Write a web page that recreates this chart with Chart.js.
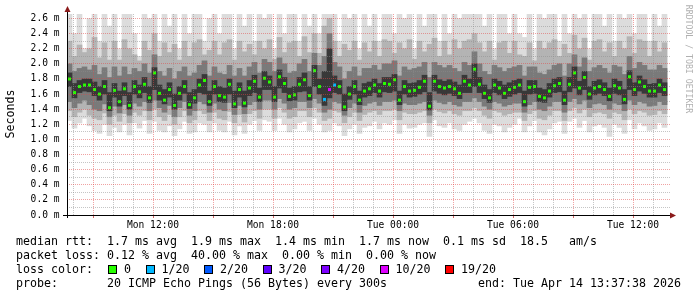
<!DOCTYPE html>
<html>
<head>
<meta charset="utf-8">
<script src="https://cdn.jsdelivr.net/npm/chart.js@4.4.1/dist/chart.umd.min.js"></script>
<style>
  html, body { margin: 0; padding: 0; background: #fff; }
  #wrap { position: relative; width: 697px; height: 297px; overflow: hidden; }
  #chart { position: absolute; left: 0; top: 0; }
  .t { position: absolute; font-family: 'DejaVu Sans Mono', monospace; font-size: 11.63px; line-height: 14px; white-space: pre; color: #000; }
  #lossLine { display: flex; align-items: center; height: 14px; }
  #lossLine .box { width: 9px; height: 9px; box-sizing: border-box; border: 1px solid #000; margin-right: 7px; }
  #lossLine .lab { margin-right: 14.5px; }
</style>
</head>
<body>
<div id="wrap">
  <canvas id="chart" width="697" height="297"></canvas>
  <div class="t" style="left:16px;top:234px">median rtt:  1.7 ms avg  1.9 ms max  1.4 ms min  1.7 ms now  0.1 ms sd  18.5   am/s</div>
  <div class="t" style="left:16px;top:248px">packet loss: 0.12 % avg  40.00 % max  0.00 % min  0.00 % now</div>
  <div class="t" id="lossLine" style="left:16px;top:262px"><span style="margin-right:15px">loss color:</span></div>
  <div class="t" style="left:16px;top:276px">probe:       20 ICMP Echo Pings (56 Bytes) every 300s</div>
  <div class="t" style="right:16px;top:276px">end: Tue Apr 14 13:37:38 2026</div>
</div>
<script>
// one sample every 15 minutes, first one starts Mon 07:42
const sampleMinutes = 15;

// median rtt (ms)
const median = [
  1.80, 1.62, 1.70, 1.72, 1.72, 1.66, 1.60, 1.70, 1.42, 1.65,
  1.50, 1.67, 1.45, 1.70, 1.63, 1.73, 1.55, 1.88, 1.61, 1.52,
  1.66, 1.45, 1.61, 1.70, 1.46, 1.55, 1.72, 1.78, 1.50, 1.70,
  1.58, 1.56, 1.73, 1.47, 1.66, 1.48, 1.68, 1.77, 1.56, 1.81,
  1.76, 1.56, 1.83, 1.74, 1.57, 1.59, 1.73, 1.79, 1.58, 1.91,
  1.70, 1.53, 1.66, 1.72, 1.70, 1.43, 1.60, 1.70, 1.52, 1.64,
  1.67, 1.72, 1.64, 1.74, 1.73, 1.79, 1.52, 1.70, 1.64, 1.65,
  1.69, 1.77, 1.44, 1.77, 1.70, 1.68, 1.70, 1.67, 1.61, 1.77,
  1.72, 1.93, 1.73, 1.61, 1.55, 1.72, 1.68, 1.61, 1.66, 1.69,
  1.72, 1.50, 1.69, 1.70, 1.57, 1.55, 1.64, 1.71, 1.74, 1.52,
  1.73, 1.88, 1.68, 1.82, 1.60, 1.68, 1.70, 1.66, 1.57, 1.71,
  1.68, 1.53, 1.83, 1.66, 1.76, 1.70, 1.64, 1.64, 1.72, 1.66
];

// lost pings out of 20
const lossCount = [
  0, 0, 0, 0, 0, 0, 0, 0, 0, 0,
  0, 0, 0, 0, 0, 0, 0, 0, 0, 0,
  0, 0, 0, 0, 0, 0, 0, 0, 0, 0,
  0, 0, 0, 0, 0, 0, 0, 0, 0, 0,
  0, 0, 0, 0, 0, 0, 0, 0, 0, 0,
  0, 1, 8, 1, 0, 0, 0, 0, 0, 0,
  0, 0, 0, 0, 0, 0, 0, 0, 0, 0,
  0, 0, 0, 0, 0, 0, 0, 0, 0, 0,
  0, 0, 0, 0, 0, 0, 0, 0, 0, 0,
  0, 0, 0, 0, 0, 0, 0, 0, 0, 0,
  0, 0, 0, 0, 0, 0, 0, 0, 0, 0,
  0, 0, 0, 0, 0, 0, 0, 0, 0, 0
];

// smoke: innermost pings around the median
const coreLo = [
  1.70, 1.55, 1.62, 1.64, 1.63, 1.58, 1.52, 1.60, 1.38, 1.56,
  1.44, 1.58, 1.40, 1.60, 1.55, 1.62, 1.49, 1.66, 1.52, 1.47,
  1.56, 1.40, 1.52, 1.61, 1.41, 1.48, 1.62, 1.60, 1.45, 1.60,
  1.50, 1.49, 1.60, 1.42, 1.56, 1.43, 1.58, 1.62, 1.50, 1.66,
  1.66, 1.50, 1.68, 1.62, 1.51, 1.52, 1.63, 1.64, 1.52, 1.70,
  1.60, 1.45, 1.55, 1.62, 1.60, 1.38, 1.53, 1.60, 1.46, 1.56,
  1.58, 1.62, 1.56, 1.63, 1.62, 1.64, 1.46, 1.60, 1.56, 1.57,
  1.60, 1.63, 1.39, 1.64, 1.61, 1.59, 1.61, 1.58, 1.54, 1.62,
  1.62, 1.70, 1.62, 1.54, 1.49, 1.62, 1.59, 1.54, 1.57, 1.60,
  1.62, 1.44, 1.60, 1.61, 1.50, 1.49, 1.56, 1.62, 1.63, 1.46,
  1.63, 1.68, 1.59, 1.66, 1.53, 1.59, 1.61, 1.58, 1.51, 1.61,
  1.59, 1.47, 1.66, 1.58, 1.64, 1.61, 1.56, 1.56, 1.62, 1.58
];
const coreHi = [
  1.88, 1.74, 1.78, 1.80, 1.80, 1.76, 1.70, 1.78, 1.62, 1.74,
  1.64, 1.75, 1.62, 1.78, 1.72, 1.82, 1.70, 1.95, 1.72, 1.66,
  1.75, 1.60, 1.70, 1.78, 1.62, 1.66, 1.80, 1.86, 1.64, 1.78,
  1.70, 1.68, 1.80, 1.64, 1.75, 1.64, 1.78, 1.85, 1.68, 1.90,
  1.84, 1.70, 1.92, 1.82, 1.68, 1.70, 1.82, 1.88, 1.70, 1.98,
  1.80, 1.90, 2.20, 1.84, 1.78, 1.60, 1.70, 1.78, 1.64, 1.74,
  1.76, 1.80, 1.74, 1.82, 1.82, 1.86, 1.64, 1.78, 1.74, 1.75,
  1.78, 1.85, 1.62, 1.85, 1.79, 1.77, 1.79, 1.76, 1.72, 1.85,
  1.80, 2.00, 1.82, 1.72, 1.66, 1.80, 1.77, 1.72, 1.75, 1.78,
  1.80, 1.64, 1.78, 1.78, 1.68, 1.66, 1.74, 1.80, 1.82, 1.64,
  1.82, 1.96, 1.77, 1.90, 1.70, 1.77, 1.79, 1.75, 1.68, 1.80,
  1.77, 1.66, 1.91, 1.75, 1.84, 1.79, 1.73, 1.74, 1.80, 1.75
];

// smoke: dark band
const darkLo = [
  1.50, 1.42, 1.48, 1.52, 1.46, 1.40, 1.38, 1.47, 1.30, 1.44,
  1.35, 1.46, 1.32, 1.48, 1.44, 1.50, 1.38, 1.52, 1.42, 1.36,
  1.45, 1.30, 1.42, 1.50, 1.32, 1.38, 1.50, 1.47, 1.36, 1.48,
  1.40, 1.38, 1.49, 1.33, 1.45, 1.34, 1.46, 1.50, 1.40, 1.52,
  1.52, 1.40, 1.54, 1.48, 1.40, 1.42, 1.50, 1.50, 1.42, 1.54,
  1.48, 1.36, 1.40, 1.50, 1.48, 1.32, 1.42, 1.48, 1.36, 1.45,
  1.48, 1.50, 1.45, 1.50, 1.50, 1.52, 1.38, 1.48, 1.46, 1.46,
  1.48, 1.50, 1.32, 1.52, 1.49, 1.47, 1.50, 1.46, 1.44, 1.50,
  1.50, 1.55, 1.50, 1.44, 1.40, 1.50, 1.48, 1.44, 1.46, 1.48,
  1.48, 1.36, 1.46, 1.50, 1.40, 1.38, 1.44, 1.50, 1.50, 1.36,
  1.50, 1.54, 1.47, 1.52, 1.42, 1.47, 1.48, 1.46, 1.40, 1.48,
  1.46, 1.38, 1.52, 1.46, 1.50, 1.48, 1.44, 1.45, 1.50, 1.46
];
const darkHi = [
  2.00, 1.90, 1.94, 1.96, 1.92, 1.98, 1.86, 1.95, 1.82, 1.96,
  1.84, 1.96, 1.86, 1.94, 1.90, 2.00, 1.88, 2.12, 1.90, 1.84,
  1.94, 1.80, 1.90, 1.96, 1.84, 1.88, 1.98, 2.04, 1.84, 1.96,
  1.88, 1.86, 1.98, 1.84, 1.94, 1.84, 1.96, 2.02, 1.88, 2.06,
  2.02, 1.90, 2.08, 2.00, 1.88, 1.90, 2.00, 2.06, 1.90, 2.14,
  1.98, 2.10, 2.40, 2.02, 1.96, 1.80, 1.90, 1.96, 1.84, 1.94,
  1.94, 1.98, 1.92, 2.00, 2.00, 2.04, 1.84, 1.96, 1.92, 1.94,
  1.96, 2.02, 1.82, 2.02, 1.98, 1.95, 1.98, 1.94, 1.90, 2.02,
  1.98, 2.16, 2.00, 1.90, 1.86, 1.98, 1.95, 1.90, 1.94, 1.96,
  1.98, 1.84, 1.96, 1.96, 1.88, 1.86, 1.92, 1.98, 2.00, 1.84,
  2.00, 2.12, 1.96, 2.08, 1.90, 1.95, 1.98, 1.94, 1.88, 1.98,
  1.96, 1.86, 2.10, 1.94, 2.02, 1.98, 1.92, 1.92, 1.98, 1.94
];

// smoke: middle band
const midLo = [
  1.38, 1.30, 1.36, 1.40, 1.32, 1.28, 1.26, 1.35, 1.20, 1.32,
  1.24, 1.34, 1.22, 1.36, 1.32, 1.38, 1.26, 1.40, 1.30, 1.25,
  1.33, 1.20, 1.30, 1.38, 1.22, 1.26, 1.38, 1.34, 1.25, 1.36,
  1.28, 1.26, 1.37, 1.22, 1.33, 1.23, 1.34, 1.38, 1.28, 1.40,
  1.40, 1.28, 1.42, 1.36, 1.28, 1.30, 1.38, 1.38, 1.30, 1.42,
  1.36, 1.25, 1.28, 1.38, 1.36, 1.22, 1.30, 1.36, 1.25, 1.33,
  1.36, 1.38, 1.33, 1.38, 1.38, 1.40, 1.26, 1.36, 1.34, 1.34,
  1.36, 1.38, 1.22, 1.40, 1.37, 1.35, 1.38, 1.34, 1.32, 1.38,
  1.38, 1.42, 1.38, 1.32, 1.28, 1.38, 1.36, 1.32, 1.34, 1.36,
  1.36, 1.25, 1.34, 1.38, 1.28, 1.26, 1.32, 1.38, 1.38, 1.25,
  1.38, 1.42, 1.35, 1.40, 1.30, 1.35, 1.36, 1.34, 1.28, 1.36,
  1.34, 1.26, 1.40, 1.34, 1.38, 1.36, 1.32, 1.33, 1.38, 1.34
];
const midHi = [
  2.30, 2.10, 2.25, 2.15, 2.20, 2.35, 2.08, 2.28, 2.05, 2.30,
  2.05, 2.32, 2.20, 2.12, 2.04, 2.30, 2.18, 2.40, 2.10, 2.28,
  2.15, 2.26, 2.05, 2.30, 2.10, 2.28, 2.32, 2.12, 2.18, 2.30,
  2.12, 2.28, 2.32, 2.05, 2.30, 2.16, 2.26, 2.12, 2.30, 2.20,
  2.32, 2.06, 2.35, 2.15, 2.28, 2.30, 2.10, 2.36, 2.15, 2.40,
  2.14, 2.50, 2.60, 2.30, 2.10, 2.26, 2.18, 2.30, 2.05, 2.28,
  2.16, 2.30, 2.10, 2.32, 2.30, 2.14, 2.28, 2.20, 2.32, 2.06,
  2.30, 2.16, 2.26, 2.34, 2.10, 2.30, 2.12, 2.32, 2.20, 2.30,
  2.32, 2.40, 2.28, 2.16, 2.30, 2.05, 2.28, 2.30, 2.14, 2.30,
  2.12, 2.10, 2.28, 2.04, 2.30, 2.20, 2.28, 2.32, 2.10, 2.26,
  2.14, 2.38, 2.20, 2.34, 2.05, 2.30, 2.32, 2.16, 2.28, 2.10,
  2.30, 2.20, 2.36, 2.14, 2.32, 2.30, 2.10, 2.30, 2.16, 2.28
];

// smoke: fastest and slowest ping
const minPing = [
  1.25, 1.15, 1.22, 1.28, 1.18, 1.12, 1.08, 1.20, 1.05, 1.16,
  1.10, 1.20, 1.06, 1.22, 1.15, 1.25, 1.08, 1.24, 1.12, 1.10,
  1.18, 1.05, 1.14, 1.24, 1.08, 1.10, 1.22, 1.20, 1.10, 1.22,
  1.12, 1.10, 1.24, 1.06, 1.18, 1.08, 1.20, 1.25, 1.12, 1.26,
  1.24, 1.12, 1.28, 1.20, 1.10, 1.14, 1.22, 1.24, 1.12, 1.28,
  1.20, 1.10, 1.12, 1.22, 1.18, 1.05, 1.14, 1.20, 1.08, 1.16,
  1.18, 1.24, 1.14, 1.22, 1.20, 1.26, 1.08, 1.20, 1.15, 1.16,
  1.20, 1.22, 1.04, 1.26, 1.18, 1.16, 1.22, 1.14, 1.12, 1.20,
  1.24, 1.28, 1.22, 1.12, 1.08, 1.20, 1.18, 1.10, 1.16, 1.20,
  1.28, 1.10, 1.18, 1.25, 1.10, 1.06, 1.14, 1.22, 1.24, 1.08,
  1.24, 1.28, 1.16, 1.25, 1.10, 1.18, 1.20, 1.16, 1.04, 1.20,
  1.16, 1.08, 1.26, 1.14, 1.22, 1.18, 1.12, 1.14, 1.22, 1.16
];
const maxPing = [
  2.9, 2.4, 2.9, 2.2, 2.6, 2.9, 2.3, 2.9, 2.5, 2.9,
  2.2, 2.9, 2.9, 2.4, 2.1, 2.9, 2.6, 2.9, 2.3, 2.9,
  2.5, 2.9, 2.2, 2.9, 2.4, 2.9, 2.9, 2.3, 2.6, 2.9,
  2.4, 2.9, 2.9, 2.2, 2.9, 2.5, 2.9, 2.3, 2.9, 2.6,
  2.9, 2.2, 2.9, 2.4, 2.9, 2.9, 2.3, 2.9, 2.5, 2.9,
  2.4, 2.9, 2.9, 2.9, 2.3, 2.9, 2.6, 2.9, 2.2, 2.9,
  2.5, 2.9, 2.3, 2.9, 2.9, 2.4, 2.9, 2.6, 2.9, 2.2,
  2.9, 2.5, 2.9, 2.9, 2.3, 2.9, 2.4, 2.9, 2.6, 2.9,
  2.9, 2.9, 2.9, 2.5, 2.9, 2.2, 2.9, 2.9, 2.4, 2.9,
  2.4, 2.35, 2.9, 2.2, 2.9, 2.6, 2.9, 2.9, 2.3, 2.9,
  2.4, 2.9, 2.6, 2.9, 2.2, 2.9, 2.9, 2.5, 2.9, 2.3,
  2.9, 2.6, 2.9, 2.4, 2.9, 2.9, 2.3, 2.9, 2.5, 2.9
];

// axes
const yTickLabels = ['0.0 m', '0.2 m', '0.4 m', '0.6 m', '0.8 m', '1.0 m', '1.2 m',
  '1.4 m', '1.6 m', '1.8 m', '2.0 m', '2.2 m', '2.4 m', '2.6 m'];
const xTickLabels = ['Mon 12:00', 'Mon 18:00', 'Tue 00:00', 'Tue 06:00', 'Tue 12:00'];
const xLabelMinutes = [258, 618, 978, 1338, 1698];

// loss legend
const lossThresholds = [0, 1, 2, 3, 4, 10, 19];
const lossLabels = ['0', '1/20', '2/20', '3/20', '4/20', '10/20', '19/20'];
const lossColors = ['#26ff00', '#00b8ff', '#0059ff', '#5e00ff', '#7e00ff', '#dd00ff', '#ff0000'];

const MONO = "'DejaVu Sans Mono', monospace";
const MAJOR = 'rgba(225, 70, 70, 0.5)';
const MINOR = 'rgba(140, 140, 140, 0.5)';

function lossColor(n) {
  for (let i = 0; i < lossThresholds.length; i++) {
    if (n <= lossThresholds[i]) return lossColors[i];
  }
  return lossColors[lossColors.length - 1];
}

const xs = median.map((_, i) => i * sampleMinutes + sampleMinutes / 2);
const band = (lo, hi) => lo.map((v, i) => ({ x: xs[i], y: [v, hi[i]] }));
const hourMarks = Array.from({ length: 30 }, (_, j) => 18 + 60 * j);
const yMarks = Array.from({ length: 27 }, (_, j) => j / 10);

const isMajorX = c => c.tick && (c.tick.value - 78) % 180 === 0;
const isMajorY = c => c.tick && Math.round(c.tick.value * 10) % 2 === 0;

function smoke(lo, hi, color) {
  return {
    type: 'bar',
    data: band(lo, hi),
    backgroundColor: color,
    grouped: false,
    barPercentage: 1,
    categoryPercentage: 1,
    borderWidth: 0
  };
}

// Loss legend row
const lossLine = document.getElementById('lossLine');
lossLabels.forEach((lab, i) => {
  const b = document.createElement('span');
  b.className = 'box';
  b.style.background = lossColors[i];
  const t = document.createElement('span');
  t.className = 'lab';
  t.textContent = lab;
  lossLine.append(b, t);
});

// Axis lines, arrows and side texts
const decorations = {
  id: 'decorations',
  afterDraw(chart) {
    const { ctx, chartArea: a } = chart;
    ctx.save();
    ctx.strokeStyle = '#000';
    ctx.lineWidth = 1;
    ctx.beginPath();
    ctx.moveTo(a.left + 0.5, a.bottom + 3);
    ctx.lineTo(a.left + 0.5, a.top - 4);
    ctx.moveTo(a.left - 4, a.bottom + 0.5);
    ctx.lineTo(a.right + 1, a.bottom + 0.5);
    ctx.stroke();

    ctx.fillStyle = '#8b1a1a';
    ctx.beginPath();
    ctx.moveTo(a.left + 0.5, a.top - 8);
    ctx.lineTo(a.left - 2.5, a.top - 2);
    ctx.lineTo(a.left + 3.5, a.top - 2);
    ctx.fill();
    ctx.beginPath();
    ctx.moveTo(a.right + 6, a.bottom + 0.5);
    ctx.lineTo(a.right, a.bottom - 2.5);
    ctx.lineTo(a.right, a.bottom + 3.5);
    ctx.fill();

    ctx.fillStyle = '#000';
    ctx.font = '11.63px ' + MONO;
    ctx.textAlign = 'center';
    ctx.textBaseline = 'middle';
    ctx.translate(11, 114);
    ctx.rotate(-Math.PI / 2);
    ctx.fillText('Seconds', 0, 0);
    ctx.restore();

    ctx.save();
    ctx.fillStyle = '#b0b0b0';
    ctx.font = '8.2px ' + MONO;
    ctx.textAlign = 'center';
    ctx.textBaseline = 'middle';
    ctx.translate(688, 59);
    ctx.rotate(Math.PI / 2);
    ctx.fillText('RRDTOOL / TOBI OETIKER', 0, 0);
    ctx.restore();
  }
};

new Chart(document.getElementById('chart'), {
  type: 'bar',
  data: {
    datasets: [
      {
        type: 'line',
        data: median.map((v, i) => ({ x: xs[i], y: v })),
        showLine: false,
        pointStyle: 'rect',
        pointRadius: 2.12,
        pointHoverRadius: 2.12,
        pointBorderWidth: 0,
        pointBackgroundColor: ctx => lossColor(lossCount[ctx.dataIndex])
      },
      smoke(coreLo, coreHi, '#383838'),
      smoke(darkLo, darkHi, '#7a7a7a'),
      smoke(midLo, midHi, '#b4b4b4'),
      smoke(minPing, maxPing, '#dcdcdc')
    ]
  },
  options: {
    responsive: false,
    animation: false,
    devicePixelRatio: 1,
    layout: { padding: { left: 0, top: 14, right: 27, bottom: 0 } },
    plugins: { legend: { display: false }, tooltip: { enabled: false } },
    events: [],
    scales: {
      x: {
        type: 'linear',
        offset: false,
        min: 0,
        max: 1809,
        afterBuildTicks: s => { s.ticks = hourMarks.map(v => ({ value: v })); },
        afterFit: s => { s.height = 82; },
        border: { display: false, dash: [1, 1] },
        grid: {
          z: 1,
          offset: false,
          lineWidth: 1,
          color: c => (isMajorX(c) ? MAJOR : MINOR),
          drawTicks: true,
          tickLength: 3,
          tickColor: c => (isMajorX(c) ? 'rgba(200,40,40,0.7)' : 'rgba(0,0,0,0)')
        },
        ticks: {
          autoSkip: false,
          maxRotation: 0,
          minRotation: 0,
          padding: 2,
          color: '#000',
          font: { family: MONO, size: 9.6 },
          callback: v => {
            const k = xLabelMinutes.indexOf(v);
            return k >= 0 ? xTickLabels[k] : '';
          }
        }
      },
      y: {
        min: 0,
        max: 2.66,
        afterBuildTicks: s => { s.ticks = yMarks.map(v => ({ value: v })); },
        afterFit: s => { s.width = 67; },
        border: { display: false, dash: [1, 1] },
        grid: {
          z: 1,
          lineWidth: 1,
          drawTicks: false,
          color: c => (isMajorY(c) ? MAJOR : MINOR)
        },
        ticks: {
          autoSkip: false,
          padding: 7.5,
          color: '#000',
          font: { family: MONO, size: 9.6 },
          callback: v => {
            const j = Math.round(v * 10);
            return j % 2 === 0 ? yTickLabels[j / 2] : '';
          }
        }
      }
    }
  },
  plugins: [decorations]
});
</script>
</body>
</html>
